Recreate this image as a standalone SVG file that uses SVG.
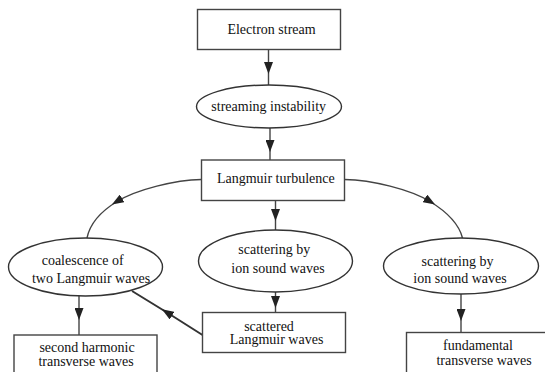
<svg xmlns="http://www.w3.org/2000/svg" width="545" height="372" viewBox="0 0 545 372">
<style>
.box{fill:#fff;stroke:#444;stroke-width:1.4}
.ell{fill:#fff;stroke:#333;stroke-width:1.4}
.lbl{font-family:"Liberation Serif","DejaVu Serif",serif;font-size:14px;fill:#111;text-anchor:middle}
.con{fill:none;stroke:#444;stroke-width:1.4;marker-mid:url(#ah)}
.thick{stroke:#333;stroke-width:2}
</style>
<defs>
<marker id="ah" markerUnits="userSpaceOnUse" viewBox="0 0 12 9" markerWidth="12" markerHeight="9" refX="6" refY="4.5" orient="auto">
<path d="M0,0 L12,4.5 L0,9 z" fill="#222"/>
</marker>
</defs>
<rect width="545" height="372" fill="#fff"/>
<g id="connectors">
<path class="con" d="M268.5,49.5 L268.5,68 L268.5,85"/>
<path class="con" d="M270,128 L270,146 L270,160"/>
<path class="con" d="M275.5,200.5 L275.5,215 L275.5,230"/>
<path class="con" d="M201.5,179.5 C175,180 137,189.4 117,201.5 C95,215 89,228 87,238"/>
<path class="con" d="M344.5,179.5 C372,180 410,189.4 430,201.5 C452,215 460,228 462.5,238"/>
<path class="con" d="M275.5,292 L275.5,302 L275.5,312.5"/>
<path class="con thick" d="M202.5,335 L167,312.5 L132,291"/>
<path class="con" d="M79,295.5 L79,314 L79,335"/>
<path class="con" d="M461,294 L461,315 L461,332.5"/>
</g>
<g id="electron-stream">
<rect class="box" x="197.5" y="9.5" width="143" height="40"/>
<text class="lbl" x="271.5" y="33.5">Electron stream</text>
</g>
<g id="streaming-instability">
<ellipse class="ell" cx="269" cy="106.5" rx="72.5" ry="21.5"/>
<text class="lbl" x="268.7" y="110.5">streaming instability</text>
</g>
<g id="langmuir-turbulence">
<rect class="box" x="201.5" y="160" width="143" height="40.5"/>
<text class="lbl" x="275.8" y="183">Langmuir turbulence</text>
</g>
<g id="coalescence">
<ellipse class="ell" cx="85.5" cy="267" rx="77" ry="29"/>
<text class="lbl" x="82.7" y="265">coalescence of</text>
<text class="lbl" x="91" y="283">two Langmuir waves</text>
</g>
<g id="scattering-middle">
<ellipse class="ell" cx="275.5" cy="261" rx="77" ry="31"/>
<text class="lbl" x="274.3" y="254">scattering by</text>
<text class="lbl" x="278" y="272.5">ion sound waves</text>
</g>
<g id="scattering-right">
<ellipse class="ell" cx="461" cy="266" rx="77.5" ry="28"/>
<text class="lbl" x="457.5" y="265.5">scattering by</text>
<text class="lbl" x="460" y="283">ion sound waves</text>
</g>
<g id="scattered-langmuir">
<rect class="box" x="202.5" y="312.5" width="143" height="40"/>
<text class="lbl" x="269" y="330.5">scattered</text>
<text class="lbl" x="276.5" y="344">Langmuir waves</text>
</g>
<g id="second-harmonic">
<rect class="box" x="14" y="335" width="143" height="45"/>
<text class="lbl" x="87" y="352">second harmonic</text>
<text class="lbl" x="86" y="366">transverse waves</text>
</g>
<g id="fundamental">
<rect class="box" x="406.5" y="332.5" width="143" height="45"/>
<text class="lbl" x="478" y="350">fundamental</text>
<text class="lbl" x="484" y="364.5">transverse waves</text>
</g>
</svg>
